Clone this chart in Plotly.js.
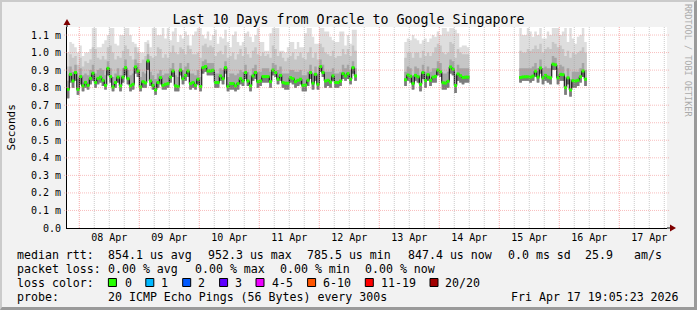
<!DOCTYPE html>
<html><head><meta charset="utf-8">
<script src="https://cdn.plot.ly/plotly-3.0.1.min.js"></script>
<style>
html,body{margin:0;padding:0;background:#f2f2f2;}
#wrap{position:relative;width:697px;height:310px;}
#chart{width:697px;height:310px;}
#frame{position:absolute;left:0;top:0;width:697px;height:310px;box-sizing:border-box;border-top:2px solid #cbcbcb;border-left:2px solid #cbcbcb;border-right:3px solid #9a9a9a;border-bottom:3px solid #9a9a9a;pointer-events:none;}
</style>
</head><body><div id="wrap"><div id="chart"></div><div id="frame"></div></div>
<script>
// ---- time window ----
const rangeStart = '2026-04-07 19:05:23';
const rangeEnd   = '2026-04-17 19:05:23';

// ---- segment 1: hourly, from 2026-04-07 19:00 (ms RTT) ----
const seg1Start = '2026-04-07T19:00:00Z';
const med1 = [.790,.876,.838,.886,.790,
 .863,.810,.830,.813,.853,.882,.829,.853,.860,.842,.813,.910,.863,.804,.829,.860,.810,.860,.914,.851,.810,.819,.918,.895,
 .804,.834,.827,.952,.838,.813,.787,.829,.857,.813,.819,.823,.860,.895,.810,.806,.900,.851,.870,.895,.823,.829,.813,.848,
 .806,.914,.920,.895,.895,.899,.829,.829,.867,.851,.914,.806,.823,.823,.810,.823,.851,.838,.886,.838,.810,.867,.886,.834,
 .838,.863,.863,.863,.834,.900,.886,.848,.870,.829,.825,.825,.857,.851,.834,.842,.848,.813,.815,.842,.886,.825,.876,.819,
 .920,.886,.838,.842,.832,.867,.829,.829,.838,.880,.867,.880,.848,.914,.867];
const lo1 = [.74,.83,.80,.84,.76,
 .82,.78,.80,.79,.82,.84,.80,.82,.83,.81,.79,.87,.83,.78,.80,.83,.78,.83,.87,.82,.78,.79,.88,.86,
 .78,.80,.80,.90,.81,.79,.76,.80,.82,.79,.79,.80,.83,.86,.78,.78,.87,.82,.84,.86,.79,.80,.79,.82,
 .78,.88,.89,.87,.87,.87,.80,.80,.84,.82,.88,.78,.79,.79,.78,.79,.82,.81,.85,.81,.78,.84,.85,.80,
 .81,.83,.83,.83,.80,.87,.86,.82,.84,.80,.79,.79,.83,.82,.80,.81,.82,.78,.78,.81,.85,.79,.84,.79,
 .89,.86,.80,.81,.80,.84,.80,.80,.81,.85,.84,.85,.82,.88,.84];
const mid1 = [.84,.92,.89,.93,.85,
 .91,.87,.88,.87,.90,.93,.88,.90,.91,.90,.87,.95,.91,.86,.88,.91,.87,.91,.96,.90,.87,.88,.96,.94,
 .86,.89,.88,.99,.89,.87,.85,.88,.90,.87,.88,.88,.91,.94,.87,.86,.94,.90,.92,.94,.88,.88,.87,.90,
 .86,.95,.96,.94,.94,.94,.88,.88,.91,.90,.95,.86,.88,.88,.87,.88,.90,.89,.93,.89,.87,.91,.93,.89,
 .89,.91,.91,.91,.89,.94,.93,.90,.92,.88,.88,.88,.90,.90,.89,.89,.90,.87,.87,.89,.93,.88,.92,.88,
 .96,.93,.89,.89,.89,.91,.88,.88,.89,.93,.91,.93,.90,.95,.91];
const up1 = [.92,.99,.97,.98,.93,
 .97,.92,.95,.94,.96,1.03,1.02,.97,.96,.98,.96,1.03,1.04,1.0,.96,.98,.97,1.01,1.04,1.02,.98,.96,1.03,1.0,
 .94,.96,.98,1.05,.98,.97,.98,1.03,1.02,.97,.99,.97,1.0,1.04,1.0,.99,1.03,1.02,.99,1.04,1.02,.99,.99,1.0,
 .97,1.04,1.05,1.03,1.04,1.03,.98,1.0,1.01,.99,1.04,.97,.98,1.0,.96,.99,1.02,.98,1.03,.99,.97,1.01,1.03,.99,
 .98,1.0,.98,.99,.97,1.04,1.02,.98,1.0,.97,.95,.97,.98,1.0,.96,.98,1.0,.97,.96,1.0,1.03,.97,1.0,.96,
 1.05,1.03,1.0,.99,.98,1.01,.97,.98,.98,1.02,.99,1.02,.98,1.04,1.01];
const hi1 = [1.0,1.06,1.05,1.03,1.0,
 1.04,.98,1.0,1.0,1.02,1.14,1.14,1.03,1.03,1.05,1.07,1.1,1.14,1.14,1.05,1.04,1.1,1.1,1.14,1.14,1.1,1.06,1.05,1.03,
 1.0,1.0,1.06,1.07,1.03,1.14,1.14,1.1,1.1,1.14,1.08,1.14,1.07,1.12,1.14,1.06,1.1,1.08,1.12,1.1,1.04,1.1,1.12,1.14,
 1.14,1.1,1.08,1.12,1.07,1.1,1.13,1.05,1.09,1.08,1.13,1.06,1.03,1.1,1.12,1.06,1.04,1.06,1.11,1.12,1.09,1.06,1.1,1.14,
 1.06,1.06,1.01,1.01,1.11,1.14,1.14,1.14,1.01,1.01,1.0,1.03,1.06,1.06,1.02,1.06,1.03,1.03,1.11,1.14,1.14,1.09,1.05,1.05,
 1.14,1.14,1.12,1.12,1.09,1.07,1.06,1.06,1.12,1.12,1.04,1.1,1.05,1.13,1.13];

// ---- segment 2: hourly, from 2026-04-13 10:00 ----
const seg2Start = '2026-04-13T10:00:00Z';
const med2 = [.845,.872,.865,.823,.870,.862,.819,.886,.840,.874,.842,.860,.864,.900,.890,.828,.826,.836,.918,.905,.812,.878,.868,.858,.860,.860];
const lo2  = [.81,.84,.83,.79,.84,.83,.78,.85,.80,.84,.81,.83,.83,.87,.86,.79,.79,.80,.88,.87,.77,.84,.83,.82,.83,.83];
const mid2 = [.89,.92,.91,.87,.92,.91,.87,.93,.89,.92,.89,.91,.91,.95,.94,.88,.88,.89,.96,.95,.87,.93,.91,.91,.91,.91];
const up2  = [.97,1.0,1.0,.97,1.0,1.0,.97,1.01,.98,1.0,.98,1.0,1.03,1.05,1.04,1.0,.99,1.0,1.06,1.05,.97,1.02,1.0,.99,.99,.99];
const hi2  = [1.06,1.08,1.07,1.1,1.08,1.07,1.05,1.07,1.08,1.06,1.08,1.1,1.09,1.12,1.1,1.14,1.14,1.12,1.14,1.14,1.13,1.11,1.03,1.04,1.04,1.03];

// ---- segment 3: hourly, from 2026-04-15 08:00 ----
const seg3Start = '2026-04-15T08:00:00Z';
const med3 = [.858,.861,.862,.862,.860,.866,.894,.860,.912,.856,.870,.860,.856,.934,.930,.856,.876,.874,.800,.856,.787,.840,.838,.842,.862,.895,.848];
const lo3  = [.83,.84,.84,.84,.83,.84,.86,.83,.88,.82,.84,.83,.82,.90,.90,.82,.84,.84,.76,.82,.75,.80,.80,.81,.83,.86,.81];
const mid3 = [.91,.91,.91,.91,.91,.92,.94,.91,.96,.91,.92,.91,.91,.98,.97,.91,.93,.92,.86,.91,.85,.89,.89,.89,.91,.94,.90];
const up3  = [1.01,1.0,1.0,1.02,1.01,1.02,1.04,1.02,1.05,1.0,1.02,1.03,1.02,1.06,1.05,1.03,1.04,1.02,.98,1.01,.97,1.0,.99,1.0,1.01,1.03,1.0];
const hi3  = [1.14,1.1,1.1,1.14,1.12,1.09,1.12,1.1,1.14,1.08,1.08,1.12,1.1,1.14,1.14,1.14,1.1,1.12,1.14,1.06,1.14,1.08,1.05,1.09,1.1,1.14,1.06];

// ---- axis labels ----
const yTickVals = [0,0.1,0.2,0.3,0.4,0.5,0.6,0.7,0.8,0.9,1.0,1.1];
const yTickText = ['0.0','0.1 m','0.2 m','0.3 m','0.4 m','0.5 m','0.6 m','0.7 m','0.8 m','0.9 m','1.0 m','1.1 m'];
const titleText = 'Last 10 Days from Oracle to Google Singapore';
const lossLabels = ['0','1','2','3','4-5','6-10','11-19','20/20'];
const lossColors = ['#26ff00','#00b8ff','#0059ff','#5e00ff','#ee00ff','#ff5500','#ff0000','#a10000'];

const segments = [
  {start: seg1Start, med: med1, lo: lo1, mid: mid1, up: up1, hi: hi1},
  {start: seg2Start, med: med2, lo: lo2, mid: mid2, up: up2, hi: hi2},
  {start: seg3Start, med: med3, lo: lo3, mid: mid3, up: up3, hi: hi3}
];

const HOUR = 3600000;
function ext(a){ return a.concat([a[a.length-1]]); }
function band(x, lower, upper, color){
  return [
    {x:x, y:lower, type:'scatter', mode:'lines', line:{shape:'hv', width:0, color:'rgba(0,0,0,0)'}, hoverinfo:'skip', showlegend:false},
    {x:x, y:upper, type:'scatter', mode:'lines', fill:'tonexty', fillcolor:color, line:{shape:'hv', width:0, color:'rgba(0,0,0,0)'}, hoverinfo:'skip', showlegend:false}
  ];
}
const traces = [];
segments.forEach(s => {
  const t0 = Date.parse(s.start);
  const x = [], xm = [];
  for (let i = 0; i <= s.med.length; i++) x.push(t0 + i*HOUR);
  for (let i = 0; i < s.med.length; i++) xm.push(t0 + i*HOUR + HOUR/2);
  traces.push(...band(x, ext(s.lo), ext(s.hi), '#dedede'));
  traces.push(...band(x, ext(s.lo), ext(s.up), '#c6c6c6'));
  traces.push(...band(x, ext(s.lo), ext(s.mid), '#a4a4a4'));
  traces.push(...band(x, ext(s.lo), ext(s.med), '#7c7c7c'));
  traces.push({x:x, y:ext(s.med), type:'scatter', mode:'lines', line:{shape:'hv', width:1, color:'#000'}, hoverinfo:'skip', showlegend:false});
  traces.push({x:xm, y:s.med, type:'scatter', mode:'markers', marker:{symbol:'square', size:3, color:'#26ff00', line:{width:0}}, hoverinfo:'skip', showlegend:false});
});

// pixel -> paper helpers (plot area: x 67..667, y 27..228)
const L = 67, W = 600, B = 228, H = 201;
const px = v => (v - L) / W;
const py = v => (B - v) / H;

const shapes = [];
// grid drawn above the smoke, as in the rrdtool output
const day0 = Date.parse('2026-04-07T00:00:00Z');
for (let k = 0; k <= 11*4; k++) {
  const t = day0 + k*6*HOUR;
  const isDay = (k % 4 === 0);
  shapes.push({type:'line', layer:'above', xref:'x', yref:'paper', x0:t, x1:t, y0:0, y1:1,
    line:{color: isDay ? 'rgba(240,110,110,0.6)' : 'rgba(160,160,160,0.55)', width:1, dash:'1px,1px'}});
}
yTickVals.slice(1).forEach(v => {
  shapes.push({type:'line', layer:'above', xref:'paper', yref:'y', x0:px(64), x1:px(669), y0:v, y1:v,
    line:{color:'rgba(240,110,110,0.45)', width:1, dash:'1px,1px'}});
});
shapes.push(
  {type:'line', xref:'paper', yref:'paper', x0:0, x1:0, y0:1, y1:py(23), line:{color:'#000', width:1}},
  {type:'path', xref:'paper', yref:'paper', path:`M ${px(63.5)},${py(25)} L ${px(67)},${py(19)} L ${px(70.5)},${py(25)} Z`, fillcolor:'#7f0000', line:{width:0}},
  {type:'line', xref:'paper', yref:'paper', x0:1, x1:px(671), y0:0, y1:0, line:{color:'#000', width:1}},
  {type:'path', xref:'paper', yref:'paper', path:`M ${px(670)},${py(224.5)} L ${px(676)},${py(228)} L ${px(670)},${py(231.5)} Z`, fillcolor:'#7f0000', line:{width:0}}
);
const boxX = [108.4,145.8,182.7,219.6,256,307.6,365.3,430];
const labX = [123.6,160.4,196.9,234.2,271.1,321.8,380,444.4];
const legFont = {family:'DejaVu Sans Mono, monospace', size:11.6, color:'#000'};
const annotations = [];
function txt(x, y, t, anchor){ annotations.push({xref:'paper', yref:'paper', x:px(x), y:py(y), text:t, showarrow:false, xanchor:anchor||'left', yanchor:'middle', font:legFont, borderpad:0}); }
lossColors.forEach((c,i) => {
  shapes.push({type:'rect', xref:'paper', yref:'paper', x0:px(boxX[i]), x1:px(boxX[i]+8), y0:py(278.5), y1:py(286.5), fillcolor:c, line:{color:'#000', width:1}});
  txt(labX[i], 282.5, lossLabels[i]);
});
txt(16, 254.5, 'median rtt:');
txt(107, 254.5, '854.1 us avg');
txt(207, 254.5, '952.3 us max');
txt(306, 254.5, '785.5 us min');
txt(407, 254.5, '847.4 us now');
txt(507, 254.5, '0.0 ms sd');
txt(584, 254.5, '25.9');
txt(633, 254.5, 'am/s');
txt(16, 268.5, 'packet loss:');
txt(107, 268.5, '0.00 % avg');
txt(194, 268.5, '0.00 % max');
txt(279, 268.5, '0.00 % min');
txt(364, 268.5, '0.00 % now');
txt(16, 282.5, 'loss color:');
txt(16, 297, 'probe:');
txt(107, 297, '20 ICMP Echo Pings (56 Bytes) every 300s');
txt(680, 297, 'Fri Apr 17 19:05:23 2026', 'right');
annotations.push({xref:'paper', yref:'paper', x:px(11), y:0.5, text:'Seconds', textangle:-90, showarrow:false, xanchor:'center', yanchor:'middle', font:{family:'DejaVu Sans Mono, monospace', size:11, color:'#000'}});
annotations.push({xref:'paper', yref:'paper', x:px(688), y:py(60), text:'RRDTOOL / TOBI OETIKER', textangle:90, showarrow:false, xanchor:'center', yanchor:'middle', font:{family:'DejaVu Sans Mono, monospace', size:8.5, color:'#ababab'}});

const layout = {
  width:697, height:310,
  margin:{l:L, r:697-L-W, t:27, b:310-B, pad:0},
  paper_bgcolor:'#f2f2f2', plot_bgcolor:'#ffffff',
  font:{family:'DejaVu Sans Mono, monospace', size:10, color:'#000'},
  title:{text:titleText, font:{family:'DejaVu Sans Mono, monospace', size:13.3, color:'#000'}, x:0.5, xref:'container', xanchor:'center', y:1-19/310, yref:'container', yanchor:'middle'},
  showlegend:false,
  xaxis:{type:'date', range:[rangeStart, rangeEnd], tickmode:'linear', tick0:'2026-04-08', dtick:86400000,
    ticklabelmode:'period', tickformat:'%d %b', showgrid:false,
    showline:true, linecolor:'#000', linewidth:1, ticks:'', zeroline:false, fixedrange:true, tickfont:{size:10}, layer:'above traces'},
  yaxis:{range:[0,1.1457], tickmode:'array', tickvals:yTickVals, ticktext:yTickText, showgrid:false,
    showline:true, linecolor:'#000', linewidth:1, zeroline:false, ticks:'', ticklabelstandoff:3, fixedrange:true, tickfont:{size:10}, layer:'above traces'},
  shapes:shapes, annotations:annotations
};
Plotly.newPlot('chart', traces, layout, {displayModeBar:false, staticPlot:true});
</script></body></html>
